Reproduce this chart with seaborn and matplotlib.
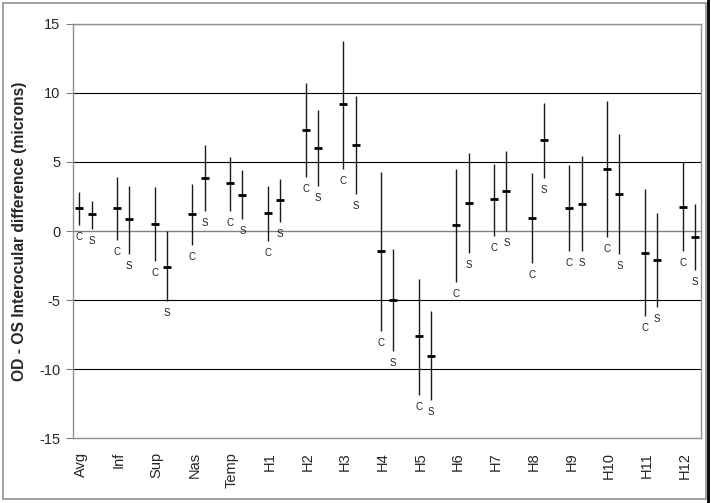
import numpy as np
import pandas as pd
import matplotlib.pyplot as plt
import seaborn as sns
from matplotlib.patches import Rectangle
from matplotlib.lines import Line2D

# regions along the x axis
regions = ['Avg', 'Inf', 'Sup', 'Nas', 'Temp', 'H1', 'H2', 'H3', 'H4', 'H5',
           'H6', 'H7', 'H8', 'H9', 'H10', 'H11', 'H12']

# C group: mean, upper and lower end of the bar
c_mean = [1.64, 1.64, 0.48, 1.20, 3.47, 1.28, 7.32, 9.19, -1.47, -7.63,
          0.43, 2.29, 0.96, 1.68, 4.50, -1.56, 1.76]
c_high = [2.79, 3.90, 3.18, 3.37, 5.39, 3.25, 10.71, 13.77, 4.24, -3.47,
          4.48, 4.89, 4.21, 4.81, 9.39, 3.03, 5.00]
c_low = [0.46, -0.67, -2.19, -0.99, 1.44, -0.70, 3.90, 4.52, -7.27, -11.87,
         -3.71, -0.36, -2.29, -1.47, -0.46, -6.16, -1.47]

# S group
s_mean = [1.20, 0.84, -2.60, 3.85, 2.60, 2.24, 5.99, 6.21, -4.98, -9.05,
          2.05, 2.89, 6.62, 1.97, 2.70, -2.09, -0.41]
s_high = [2.17, 3.25, 0.00, 6.26, 4.40, 3.75, 8.78, 9.80, -1.28, -5.82,
          5.68, 5.80, 9.31, 5.42, 7.00, 1.30, 1.97]
s_low = [0.17, -1.64, -5.10, 1.44, 0.84, 0.65, 3.25, 2.65, -8.66, -12.25,
         -1.59, 0.00, 3.85, -1.47, -1.68, -5.51, -2.86]

offset = 0.326  # S bar sits just right of the C bar

rows = []
for i, r in enumerate(regions):
    rows.append(dict(region=r, group='C', x=i, mean=c_mean[i], high=c_high[i], low=c_low[i]))
    rows.append(dict(region=r, group='S', x=i + offset, mean=s_mean[i], high=s_high[i], low=s_low[i]))
df = pd.DataFrame(rows)

sns.set_style('white')
plt.rcParams['font.family'] = ['Liberation Sans', 'DejaVu Sans']
plt.rcParams['axes.unicode_minus'] = False

fig = plt.figure(figsize=(7.11, 5.03), dpi=100)
ax = fig.add_axes([0.1027, 0.1292, 0.8833, 0.8231])

# gridlines
for g in [-10, -5, 5, 10, 15]:
    ax.axhline(g, color='black', lw=0.8, zorder=1)
ax.axhline(0, color='#808080', lw=1.0, zorder=1)

# range bars and mean dashes
ax.vlines(df['x'], df['low'], df['high'], color='#1a1a1a', lw=1.0, zorder=2)
sns.scatterplot(data=df, x='x', y='mean', marker='_', s=40, linewidth=2,
                color='black', ax=ax, legend=False, zorder=3)

# group letters under each bar
for _, row in df.iterrows():
    ax.annotate(row['group'], (row['x'], row['low']), xytext=(0, -12),
                textcoords='offset pixels', ha='center', va='center',
                fontsize=7, color='#222222')

ax.set_xlim(-0.167, 16.49)
ax.set_ylim(-15, 15)
ax.set_yticks([-15, -10, -5, 0, 5, 10, 15])
ax.set_xticks(np.arange(len(regions)) + 0.05)
ax.set_xticklabels(regions, rotation=90)
ax.tick_params(axis='y', length=5, width=0.8, color='#808080', pad=4, labelsize=10.5, left=True)
ax.tick_params(axis='x', length=0, pad=10, labelsize=10.5)
ax.set_xlabel('')
ax.set_ylabel('OD - OS Interocular difference (microns)', fontsize=11.25,
              fontweight='bold')
ax.yaxis.set_label_coords(-0.073, 0.5)

for side in ['left', 'right', 'top', 'bottom']:
    ax.spines[side].set_visible(True)
    ax.spines[side].set_color('#909090')
    ax.spines[side].set_linewidth(1.0)

# chart frame
fig.patches.append(Rectangle((3 / 711, 4 / 503), 703 / 711, 496 / 503,
                             transform=fig.transFigure, fill=False,
                             edgecolor='#909090', lw=1.2))
fig.lines.append(Line2D([707.5 / 711, 707.5 / 711], [0, 1], transform=fig.transFigure,
                        color='black', lw=2))

fig.savefig('out.png', dpi=100)
